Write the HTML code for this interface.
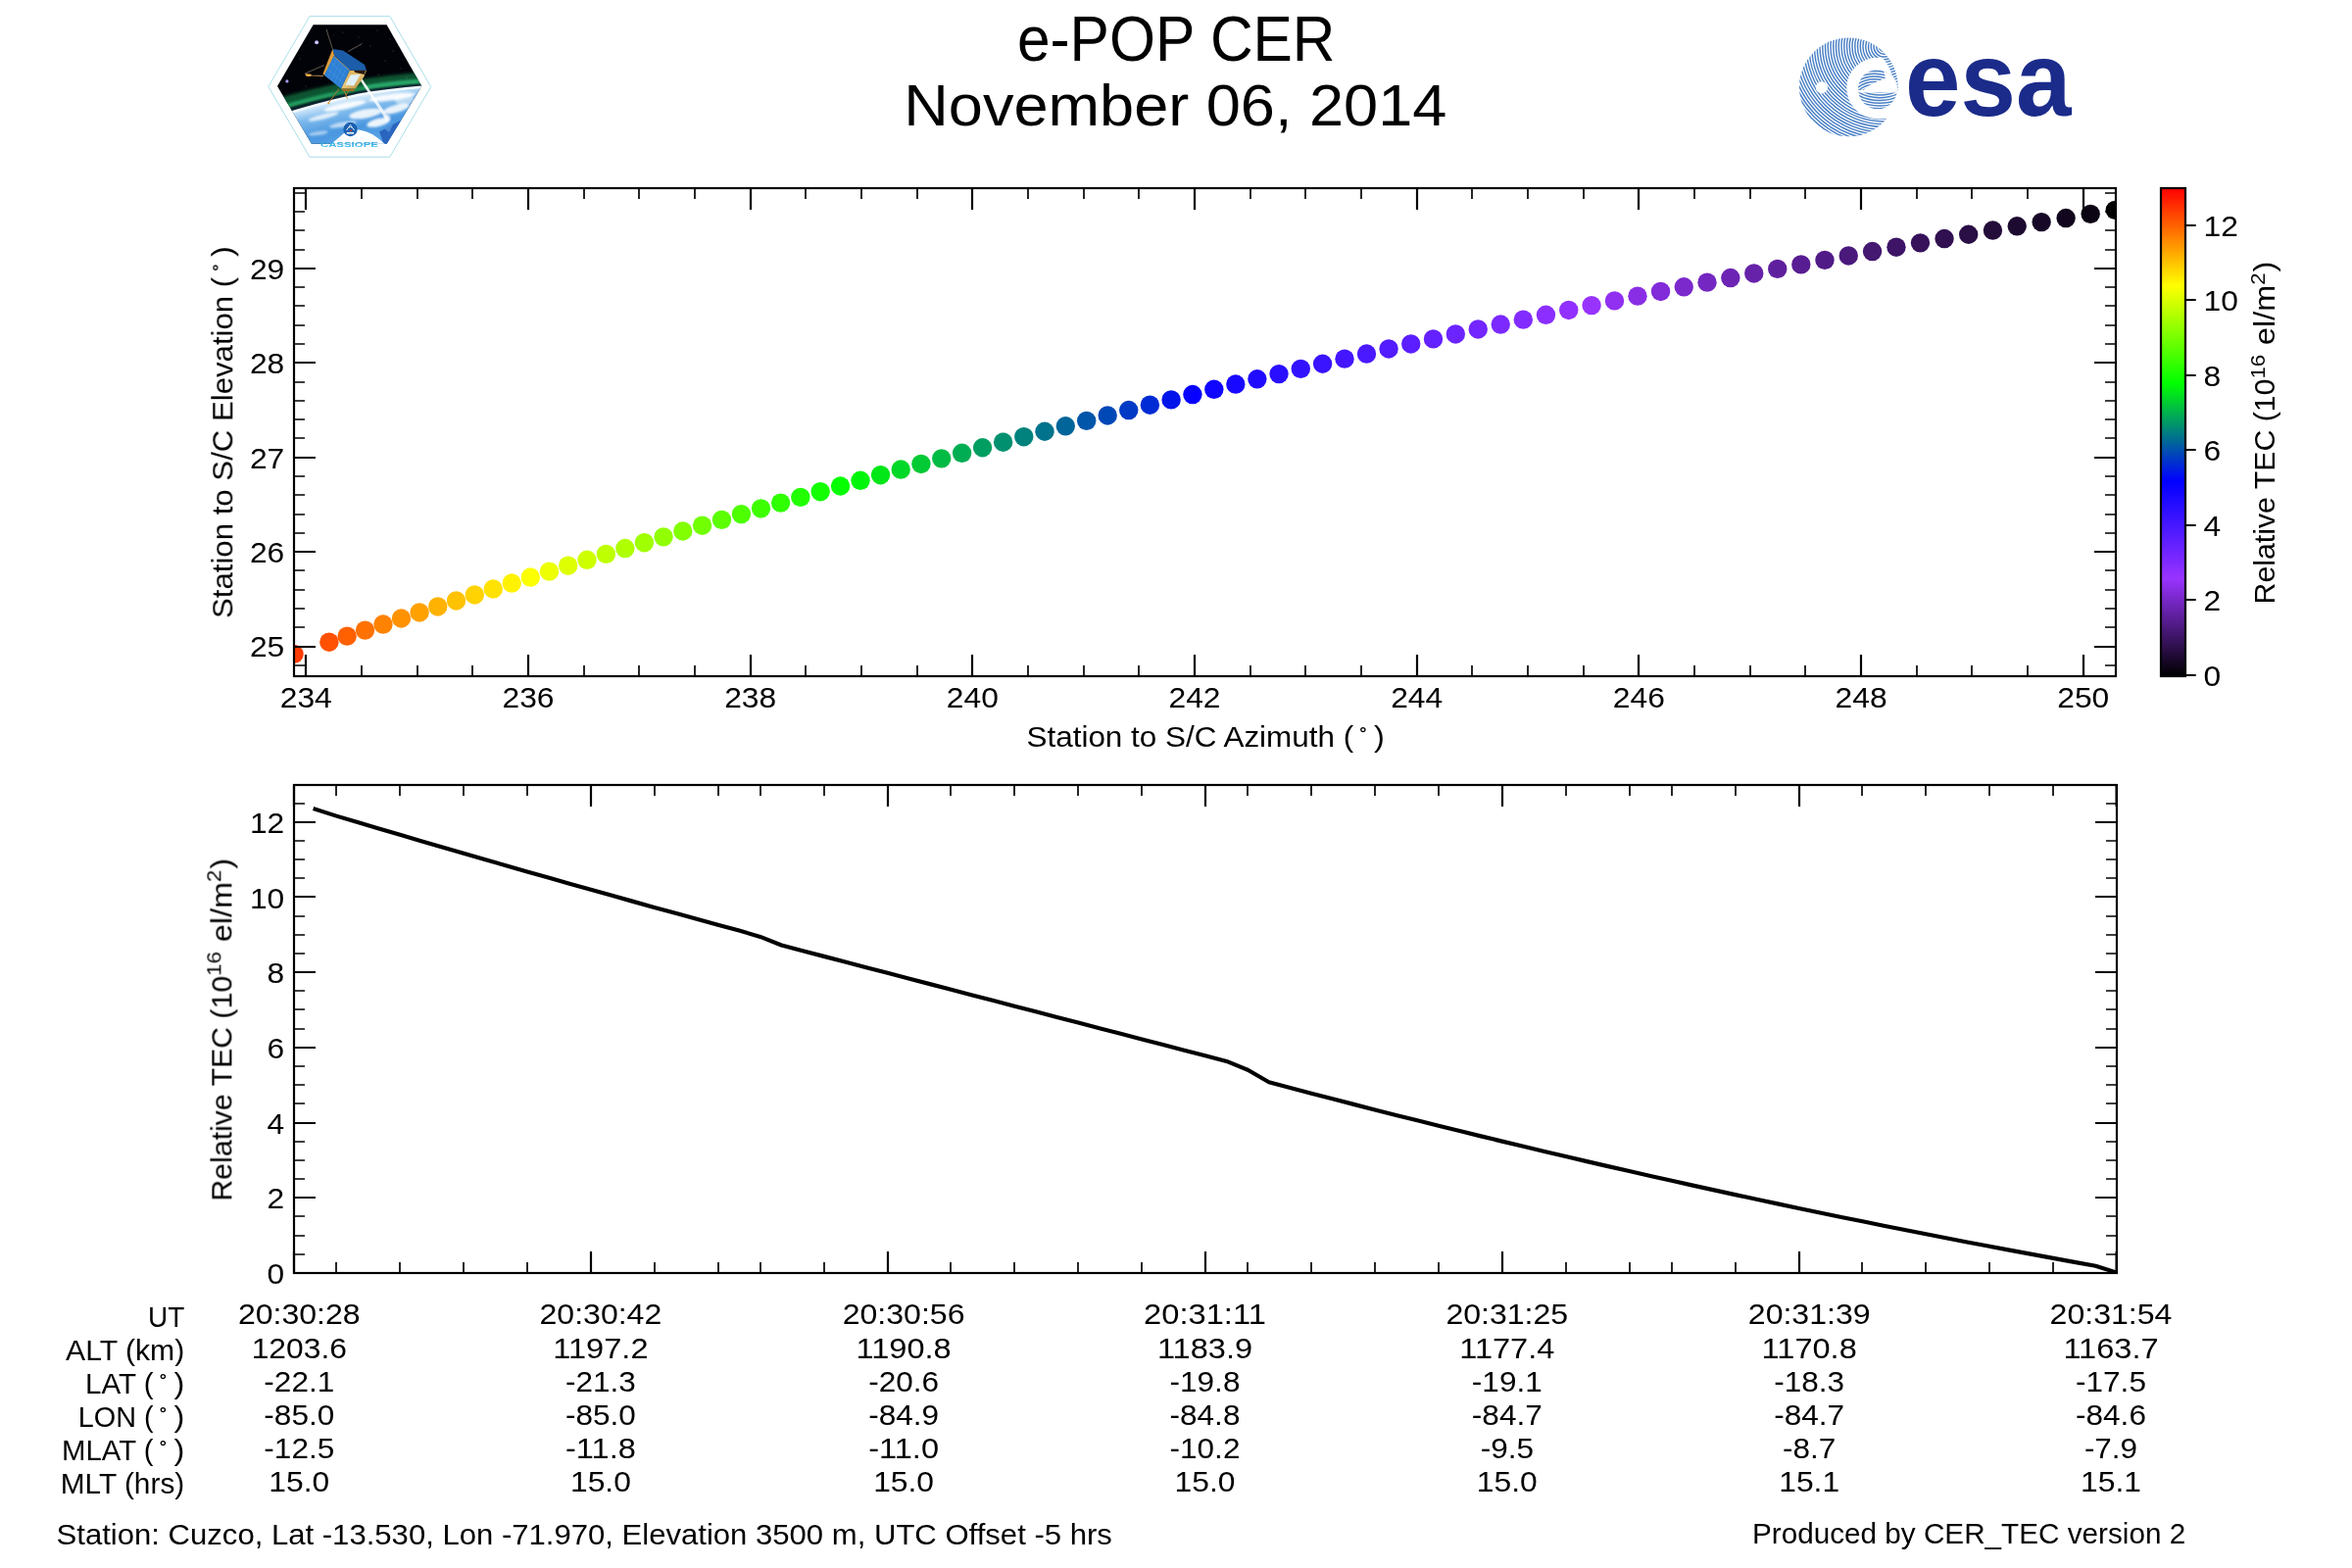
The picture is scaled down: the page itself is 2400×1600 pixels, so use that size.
<!DOCTYPE html>
<html lang="en">
<head>
<meta charset="utf-8">
<title>e-POP CER - November 06, 2014</title>
<style>
html,body{margin:0;padding:0;background:#fff;}
body{width:2400px;height:1600px;font-family:"Liberation Sans",sans-serif;}
svg{display:block;}
text{font-family:"Liberation Sans",sans-serif;white-space:pre;}
</style>
</head>
<body>
<svg width="2400" height="1600" viewBox="0 0 2400 1600" font-family="'Liberation Sans', sans-serif">
<rect width="2400" height="1600" fill="#fff"/>
<defs>
<clipPath id="ctop"><rect x="300" y="192" width="1860" height="498"/></clipPath>
<clipPath id="cbot"><rect x="300" y="801" width="1860" height="498"/></clipPath>
<linearGradient id="cb" x1="0" y1="1" x2="0" y2="0"><stop offset="0" stop-color="#000000"/><stop offset="0.2" stop-color="#9933ff"/><stop offset="0.4" stop-color="#0000ff"/><stop offset="0.6" stop-color="#00ff00"/><stop offset="0.8" stop-color="#ffff00"/><stop offset="1" stop-color="#ff0000"/></linearGradient>
<clipPath id="hexclip"><path d="M283 88L319.6 25.2H394.6L430.3 88L394.6 146.8H317.9Z"/></clipPath>
<linearGradient id="earthg" gradientUnits="userSpaceOnUse" x1="350" y1="95" x2="362" y2="150">
<stop offset="0" stop-color="#f6fbff"/><stop offset="0.14" stop-color="#cfe7fa"/><stop offset="0.34" stop-color="#7db9ec"/><stop offset="0.65" stop-color="#4a97e0"/><stop offset="1" stop-color="#5aa3e6"/>
</linearGradient>
<linearGradient id="beamg" gradientUnits="userSpaceOnUse" x1="367" y1="79" x2="395" y2="120">
<stop offset="0" stop-color="#fff" stop-opacity="0.95"/><stop offset="1" stop-color="#fff" stop-opacity="0.7"/>
</linearGradient>
<linearGradient id="goldg" x1="0" y1="0" x2="1" y2="1">
<stop offset="0" stop-color="#d8a546"/><stop offset="0.5" stop-color="#e7c77a"/><stop offset="1" stop-color="#a87a2a"/>
</linearGradient>
<linearGradient id="casg" x1="0" y1="0" x2="0" y2="1"><stop offset="0" stop-color="#1f9fe0"/><stop offset="1" stop-color="#55c3ee"/></linearGradient>
<filter id="bl1" x="-20%" y="-50%" width="140%" height="200%"><feGaussianBlur stdDeviation="1.6"/></filter>
<filter id="bl2" x="-20%" y="-50%" width="140%" height="200%"><feGaussianBlur stdDeviation="0.9"/></filter>
<filter id="bl3" x="-50%" y="-50%" width="200%" height="200%"><feGaussianBlur stdDeviation="0.5"/></filter>
<clipPath id="esaclip"><circle cx="1886.4" cy="88.9" r="50.4"/></clipPath>
<clipPath id="esain"><circle cx="1916" cy="91.2" r="20"/></clipPath>
<clipPath id="esaring"><circle cx="1886.4" cy="88.9" r="45.8"/></clipPath>
<clipPath id="esatop"><path d="M1894 92L1896.5 70L1921 68L1924 79.5C1917 83 1908 85.5 1901.5 92Z"/></clipPath>

</defs>
<g id="figure" opacity="0.999">
<g id="title">
<text x="1037.89" y="62" font-size="64.9" textLength="324.62" lengthAdjust="spacingAndGlyphs" fill="#000">e-POP CER</text>
<text x="922.24" y="128.3" font-size="59" textLength="554.11" lengthAdjust="spacingAndGlyphs" fill="#000">November 06, 2014</text>
</g>
<g id="cassiope-logo">
<path d="M273.8 88.4L316 16.6H397.8L439.7 88.4L397.8 160.2H316Z" fill="#fff" stroke="#a9dfea" stroke-width="1"/>
<g clip-path="url(#hexclip)">
<rect x="280" y="20" width="155" height="130" fill="#020308"/>
<g filter="url(#bl1)" fill="none">
<path d="M276 109C300 101.5 332 93.5 366 87.5C395 82.5 415 81 436 79.5" stroke="#0c5532" stroke-width="12"/>
<path d="M276 113.5C300 106 332 97.5 366 91C395 86 415 84.5 436 83" stroke="#1c9758" stroke-width="4"/>
<path d="M290 109.5C310 103.5 325 100 340 96.5" stroke="#3bd089" stroke-width="2.2" opacity="0.55"/>
<path d="M372 89.5C392 85.5 410 84 428 83" stroke="#3bd089" stroke-width="2.5" opacity="0.7"/>
</g>
<path d="M276 118.5C300 110.5 330 102 366 94.3C395 89.3 415 87.7 436 86" fill="none" stroke="#0a2a3a" stroke-width="2.2" opacity="0.8" filter="url(#bl3)"/>
<path d="M276 121.5C300 113 330 104.5 366 96.7C395 91.5 415 90 436 88.3V152H276Z" fill="url(#earthg)"/>
<path d="M276 121.5C300 113 330 104.5 366 96.7C395 91.5 415 90 436 88.3" fill="none" stroke="#f4fbff" stroke-width="2.6" filter="url(#bl3)"/>
<g filter="url(#bl2)" fill="#fff">
<ellipse cx="352" cy="108" rx="22" ry="3.2" transform="rotate(-12 352 108)" opacity="0.9"/>
<ellipse cx="400" cy="99" rx="24" ry="3.4" transform="rotate(-7 400 99)" opacity="0.9"/>
<ellipse cx="330" cy="119" rx="16" ry="2.6" transform="rotate(-14 330 119)" opacity="0.75"/>
<ellipse cx="373" cy="116" rx="17" ry="4.5" transform="rotate(-10 373 116)" opacity="0.85"/>
<ellipse cx="404" cy="111" rx="14" ry="4" transform="rotate(-16 404 111)" opacity="0.85"/>
<ellipse cx="350" cy="127" rx="14" ry="2.5" transform="rotate(-10 350 127)" opacity="0.6"/>
<ellipse cx="386" cy="125" rx="12" ry="4" transform="rotate(-14 386 125)" opacity="0.9"/>
<ellipse cx="325" cy="136" rx="10" ry="2" transform="rotate(-8 325 136)" opacity="0.5"/>
<ellipse cx="412" cy="101" rx="10" ry="6" opacity="0.5"/>
</g>
<path d="M387 134.5C395 130 402 126 409.5 122.5L396 146.8L391 146.8C390 142 388.5 138 387 134.5Z" fill="#2a66c0"/>
<path d="M392 131L401 127L397 135Z" fill="#5d9fe3" opacity="0.7" filter="url(#bl3)"/>
<path d="M331 150C339 147 346 140.5 351.5 135.6C356 132.6 362 132 366 132.4C374 133.4 380 136.8 384 139.8C388 142.8 392 146 396 150Z" fill="#fff"/>
<path d="M366.3 79.9L368.3 78.7L396 119.2L392.9 121Z" fill="url(#beamg)"/>
<circle cx="395" cy="120.5" r="3.2" fill="#fff" opacity="0.8" filter="url(#bl2)"/>
<g filter="url(#bl3)"><circle cx="323.1" cy="43.3" r="2" fill="#b9b2ff"/><circle cx="292.9" cy="82.9" r="1.6" fill="#a79cf0"/></g>
<circle cx="323.1" cy="43.3" r="0.8" fill="#fff"/>
<g fill="#fff" opacity="0.55"><circle cx="350" cy="33" r="0.45"/><circle cx="385" cy="31" r="0.45"/><circle cx="401" cy="52" r="0.45"/><circle cx="378" cy="47" r="0.45"/><circle cx="409" cy="70" r="0.45"/><circle cx="306" cy="60" r="0.4"/><circle cx="366" cy="38" r="0.4"/><circle cx="393" cy="62" r="0.45"/><circle cx="415" cy="79" r="0.4"/><circle cx="340" cy="36" r="0.4"/><circle cx="398" cy="40" r="0.4"/><circle cx="386" cy="76" r="0.4"/><circle cx="312" cy="88" r="0.4"/></g>
<g stroke="#8b8072" stroke-width="0.7" fill="none"><path d="M339.4 50.1L333 29.9"/><path d="M354.9 52.7L369.6 44.5"/><path d="M330.8 66.5L311 75.1"/></g>
<path d="M311.5 75.6L318 77L330 77.5" stroke="#b88a4a" stroke-width="1.1" fill="none"/>
<ellipse cx="314.8" cy="76.7" rx="3" ry="1.2" fill="#ffb347" filter="url(#bl3)"/>
<g stroke="#b07a35" stroke-width="1" fill="none"><path d="M346 90.5L335.3 105"/><path d="M350.5 91L354.5 100.5"/><path d="M357 91L353 97"/></g>
<circle cx="335.2" cy="105.3" r="1.1" fill="#e39a35"/>
<path d="M356.7 71.7H373.9L371.3 78.6L362.7 90.6H348Z" fill="url(#goldg)"/>
<path d="M357.8 76.5L367.5 76L361 87.5L352.5 86.5Z" fill="#dff0fa" filter="url(#bl3)"/>
<path d="M361 71.9L373 72L371.8 76L362.5 74Z" fill="#2c1d0c"/>
<path d="M348 90.6H362.7L361 93H349.5Z" fill="#9a6d25"/>
<path d="M339.4 50.1L350 51.5L372 66L373.9 71.7H356.7L341 56.5Z" fill="#1c5daa"/>
<path d="M339.4 50.1L341 56.5L331.6 77.3L329.4 75.6Z" fill="#dd9c3a"/>
<path d="M340.6 57L356.7 71.7L348 90.6L330.8 76.8Z" fill="#2e80d5"/>
<g stroke="#63acee" stroke-width="0.3" opacity="0.9"><path d="M343.8 60L334.2 79.5"/><path d="M347 62.9L337.7 82.3"/><path d="M350.2 65.8L341.1 85"/><path d="M353.5 68.8L344.5 87.8"/><path d="M337.3 63.6L354 80"/><path d="M334.1 70.2L351 85.5"/></g>
<path d="M340.6 57L356.7 71.7" stroke="#e8b866" stroke-width="0.7"/>
</g>
<circle cx="357.5" cy="132" r="7.2" fill="#1b5fb0"/>
<path d="M353.4 133Q357.5 125.8 361.6 133" fill="none" stroke="#fff" stroke-width="0.9"/><path d="M355.5 130.5L357.5 127.2L359.5 130.5" fill="none" stroke="#fff" stroke-width="0.7"/><circle cx="358" cy="133.2" r="0.9" fill="#e03030"/><rect x="353.8" y="134.9" width="7.4" height="1.7" fill="#fff" opacity="0.92"/>
<text x="326.9" y="149.7" font-size="7" font-weight="bold" fill="url(#casg)" textLength="59" lengthAdjust="spacingAndGlyphs">CASSIOPE</text>
</g>
<g id="esa-logo">
<g clip-path="url(#esaclip)" fill="none" stroke="#4a80c5" stroke-width="1.45">
<circle cx="1922.5" cy="47.5" r="5.00"/>
<circle cx="1922.5" cy="47.5" r="7.75"/>
<circle cx="1922.5" cy="47.5" r="10.50"/>
<circle cx="1922.5" cy="47.5" r="13.25"/>
<circle cx="1922.5" cy="47.5" r="16.00"/>
<circle cx="1922.5" cy="47.5" r="18.75"/>
<circle cx="1922.5" cy="47.5" r="21.50"/>
<circle cx="1922.5" cy="47.5" r="24.25"/>
<circle cx="1922.5" cy="47.5" r="27.00"/>
<circle cx="1922.5" cy="47.5" r="29.75"/>
<circle cx="1922.5" cy="47.5" r="32.50"/>
<circle cx="1922.5" cy="47.5" r="35.25"/>
<circle cx="1922.5" cy="47.5" r="38.00"/>
<circle cx="1922.5" cy="47.5" r="40.75"/>
<circle cx="1922.5" cy="47.5" r="43.50"/>
<circle cx="1922.5" cy="47.5" r="46.25"/>
<circle cx="1922.5" cy="47.5" r="49.00"/>
<circle cx="1922.5" cy="47.5" r="51.75"/>
<circle cx="1922.5" cy="47.5" r="54.50"/>
<circle cx="1922.5" cy="47.5" r="57.25"/>
<circle cx="1922.5" cy="47.5" r="60.00"/>
<circle cx="1922.5" cy="47.5" r="62.75"/>
<circle cx="1922.5" cy="47.5" r="65.50"/>
<circle cx="1922.5" cy="47.5" r="68.25"/>
<circle cx="1922.5" cy="47.5" r="71.00"/>
<circle cx="1922.5" cy="47.5" r="73.75"/>
<circle cx="1922.5" cy="47.5" r="76.50"/>
<circle cx="1922.5" cy="47.5" r="79.25"/>
<circle cx="1922.5" cy="47.5" r="82.00"/>
<circle cx="1922.5" cy="47.5" r="84.75"/>
<circle cx="1922.5" cy="47.5" r="87.50"/>
<circle cx="1922.5" cy="47.5" r="90.25"/>
<circle cx="1922.5" cy="47.5" r="93.00"/>
<circle cx="1922.5" cy="47.5" r="95.75"/>
<circle cx="1922.5" cy="47.5" r="98.50"/>
<circle cx="1922.5" cy="47.5" r="101.25"/>
<circle cx="1922.5" cy="47.5" r="104.00"/>
<circle cx="1922.5" cy="47.5" r="106.75"/>
</g>
<g clip-path="url(#esaring)"><circle cx="1915.5" cy="90" r="31.2" fill="#fff"/></g>
<path d="M1916 92.5H1940V121.3H1916Z" fill="#fff"/>
<circle cx="1916" cy="91.2" r="20.4" fill="#fff"/>
<g clip-path="url(#esain)" fill="none" stroke="#4a80c5" stroke-width="1.45">
<circle cx="1918" cy="56" r="8.00"/>
<circle cx="1918" cy="56" r="10.75"/>
<circle cx="1918" cy="56" r="13.50"/>
<circle cx="1918" cy="56" r="16.25"/>
<circle cx="1918" cy="56" r="19.00"/>
<circle cx="1918" cy="56" r="21.75"/>
<circle cx="1918" cy="56" r="24.50"/>
<circle cx="1918" cy="56" r="27.25"/>
<circle cx="1918" cy="56" r="30.00"/>
<circle cx="1918" cy="56" r="32.75"/>
<circle cx="1918" cy="56" r="35.50"/>
<circle cx="1918" cy="56" r="38.25"/>
<circle cx="1918" cy="56" r="41.00"/>
<circle cx="1918" cy="56" r="43.75"/>
<circle cx="1918" cy="56" r="46.50"/>
<circle cx="1918" cy="56" r="49.25"/>
<circle cx="1918" cy="56" r="52.00"/>
<circle cx="1918" cy="56" r="54.75"/>
<circle cx="1918" cy="56" r="57.50"/>
</g>
<g clip-path="url(#esain)"><path d="M1890 94.5H1940V60H1890Z" fill="#fff"/>
<g clip-path="url(#esatop)" fill="none" stroke="#4a80c5" stroke-width="1.45">
<circle cx="1913" cy="112" r="12.00"/>
<circle cx="1913" cy="112" r="14.75"/>
<circle cx="1913" cy="112" r="17.50"/>
<circle cx="1913" cy="112" r="20.25"/>
<circle cx="1913" cy="112" r="23.00"/>
<circle cx="1913" cy="112" r="25.75"/>
<circle cx="1913" cy="112" r="28.50"/>
<circle cx="1913" cy="112" r="31.25"/>
<circle cx="1913" cy="112" r="34.00"/>
<circle cx="1913" cy="112" r="36.75"/>
<circle cx="1913" cy="112" r="39.50"/>
<circle cx="1913" cy="112" r="42.25"/>
<circle cx="1913" cy="112" r="45.00"/>
<circle cx="1913" cy="112" r="47.75"/>
</g></g>
<circle cx="1858.9" cy="89.3" r="6.1" fill="#fff"/>
<text x="1944" y="118.4" font-size="107.5" font-weight="bold" fill="#1b2b8a" textLength="169.4" lengthAdjust="spacingAndGlyphs">esa</text>
</g>
<g id="scatter" clip-path="url(#ctop)">
<circle cx="300" cy="667.4" r="9.7" fill="#ff3c00"/>
<circle cx="335.88" cy="655.22" r="9.7" fill="#ff5100"/>
<circle cx="354.16" cy="649.15" r="9.7" fill="#ff6100"/>
<circle cx="372.52" cy="643.09" r="9.7" fill="#ff7200"/>
<circle cx="390.96" cy="637.04" r="9.7" fill="#ff8200"/>
<circle cx="409.48" cy="631" r="9.7" fill="#ff9200"/>
<circle cx="428.07" cy="624.97" r="9.7" fill="#ffa200"/>
<circle cx="446.74" cy="618.96" r="9.7" fill="#ffb200"/>
<circle cx="465.5" cy="612.95" r="9.7" fill="#ffc200"/>
<circle cx="484.33" cy="606.96" r="9.7" fill="#ffd200"/>
<circle cx="503.24" cy="600.99" r="9.7" fill="#ffe200"/>
<circle cx="522.23" cy="595.02" r="9.7" fill="#fff200"/>
<circle cx="541.3" cy="589.07" r="9.7" fill="#fcff00"/>
<circle cx="560.46" cy="583.14" r="9.7" fill="#edff00"/>
<circle cx="579.69" cy="577.21" r="9.7" fill="#ddff00"/>
<circle cx="599" cy="571.31" r="9.7" fill="#ceff00"/>
<circle cx="618.4" cy="565.41" r="9.7" fill="#beff00"/>
<circle cx="637.88" cy="559.54" r="9.7" fill="#afff00"/>
<circle cx="657.43" cy="553.68" r="9.7" fill="#a0ff00"/>
<circle cx="677.07" cy="547.83" r="9.7" fill="#91ff00"/>
<circle cx="696.8" cy="542" r="9.7" fill="#82ff00"/>
<circle cx="716.6" cy="536.19" r="9.7" fill="#72ff00"/>
<circle cx="736.49" cy="530.39" r="9.7" fill="#5bff00"/>
<circle cx="756.45" cy="524.61" r="9.7" fill="#4dff00"/>
<circle cx="776.51" cy="518.85" r="9.7" fill="#3eff00"/>
<circle cx="796.64" cy="513.11" r="9.7" fill="#30ff00"/>
<circle cx="816.86" cy="507.38" r="9.7" fill="#21ff00"/>
<circle cx="837.16" cy="501.68" r="9.7" fill="#13ff00"/>
<circle cx="857.54" cy="495.99" r="9.7" fill="#05ff00"/>
<circle cx="878.01" cy="490.32" r="9.7" fill="#00f50a"/>
<circle cx="898.56" cy="484.68" r="9.7" fill="#00e718"/>
<circle cx="919.2" cy="479.05" r="9.7" fill="#00d827"/>
<circle cx="939.92" cy="473.44" r="9.7" fill="#00ca35"/>
<circle cx="960.72" cy="467.85" r="9.7" fill="#00bb44"/>
<circle cx="981.61" cy="462.29" r="9.7" fill="#00ad52"/>
<circle cx="1002.58" cy="456.74" r="9.7" fill="#009e61"/>
<circle cx="1023.63" cy="451.22" r="9.7" fill="#00906f"/>
<circle cx="1044.77" cy="445.72" r="9.7" fill="#00827d"/>
<circle cx="1066" cy="440.24" r="9.7" fill="#00738c"/>
<circle cx="1087.3" cy="434.79" r="9.7" fill="#00659a"/>
<circle cx="1108.7" cy="429.36" r="9.7" fill="#0056a9"/>
<circle cx="1130.17" cy="423.95" r="9.7" fill="#0048b7"/>
<circle cx="1151.74" cy="418.57" r="9.7" fill="#003ac5"/>
<circle cx="1173.38" cy="413.21" r="9.7" fill="#002bd4"/>
<circle cx="1195.11" cy="407.88" r="9.7" fill="#0015ea"/>
<circle cx="1216.93" cy="402.57" r="9.7" fill="#0702ff"/>
<circle cx="1238.83" cy="397.28" r="9.7" fill="#1005ff"/>
<circle cx="1260.82" cy="392.02" r="9.7" fill="#1808ff"/>
<circle cx="1282.88" cy="386.79" r="9.7" fill="#210bff"/>
<circle cx="1305.04" cy="381.59" r="9.7" fill="#2a0eff"/>
<circle cx="1327.28" cy="376.41" r="9.7" fill="#3211ff"/>
<circle cx="1349.6" cy="371.26" r="9.7" fill="#3a13ff"/>
<circle cx="1372.01" cy="366.13" r="9.7" fill="#4316ff"/>
<circle cx="1394.5" cy="361.04" r="9.7" fill="#4b19ff"/>
<circle cx="1417.08" cy="355.97" r="9.7" fill="#531cff"/>
<circle cx="1439.74" cy="350.93" r="9.7" fill="#5b1eff"/>
<circle cx="1462.49" cy="345.92" r="9.7" fill="#6421ff"/>
<circle cx="1485.32" cy="340.93" r="9.7" fill="#6c24ff"/>
<circle cx="1508.23" cy="335.98" r="9.7" fill="#7326ff"/>
<circle cx="1531.23" cy="331.06" r="9.7" fill="#7b29ff"/>
<circle cx="1554.31" cy="326.17" r="9.7" fill="#832cff"/>
<circle cx="1577.48" cy="321.3" r="9.7" fill="#8b2eff"/>
<circle cx="1600.73" cy="316.47" r="9.7" fill="#9231ff"/>
<circle cx="1624.07" cy="311.67" r="9.7" fill="#9833fe"/>
<circle cx="1647.48" cy="306.9" r="9.7" fill="#9130f1"/>
<circle cx="1670.98" cy="302.16" r="9.7" fill="#892ee5"/>
<circle cx="1694.57" cy="297.45" r="9.7" fill="#822bd9"/>
<circle cx="1718.24" cy="292.78" r="9.7" fill="#7b29cd"/>
<circle cx="1741.99" cy="288.13" r="9.7" fill="#7427c1"/>
<circle cx="1765.82" cy="283.52" r="9.7" fill="#6d24b5"/>
<circle cx="1789.74" cy="278.95" r="9.7" fill="#6622a9"/>
<circle cx="1813.74" cy="274.4" r="9.7" fill="#5f209e"/>
<circle cx="1837.82" cy="269.89" r="9.7" fill="#581d92"/>
<circle cx="1861.98" cy="265.41" r="9.7" fill="#511b87"/>
<circle cx="1886.23" cy="260.97" r="9.7" fill="#4a197c"/>
<circle cx="1910.56" cy="256.56" r="9.7" fill="#441771"/>
<circle cx="1934.97" cy="252.18" r="9.7" fill="#3d1466"/>
<circle cx="1959.46" cy="247.84" r="9.7" fill="#37125b"/>
<circle cx="1984.03" cy="243.53" r="9.7" fill="#301050"/>
<circle cx="2008.68" cy="239.26" r="9.7" fill="#2a0e46"/>
<circle cx="2033.42" cy="235.02" r="9.7" fill="#240c3b"/>
<circle cx="2058.23" cy="230.82" r="9.7" fill="#1d0a31"/>
<circle cx="2083.13" cy="226.65" r="9.7" fill="#170827"/>
<circle cx="2108.1" cy="222.52" r="9.7" fill="#11061d"/>
<circle cx="2133.16" cy="218.42" r="9.7" fill="#0b0413"/>
<circle cx="2158.29" cy="214.36" r="9.7" fill="#010001"/>
</g>
<g id="top-axes" fill="none" stroke="#000">
<path stroke-width="2.2" d="M312 690V668M539 690V668M766 690V668M992 690V668M1219 690V668M1446 690V668M1672 690V668M1899 690V668M2126 690V668M312 192V214M539 192V214M766 192V214M992 192V214M1219 192V214M1446 192V214M1672 192V214M1899 192V214M2126 192V214M300 660H322M300 563H322M300 467H322M300 370H322M300 274H322M2159 660H2137M2159 563H2137M2159 467H2137M2159 370H2137M2159 274H2137"/>
<path stroke-width="1.7" d="M369 690V679M426 690V679M482 690V679M596 690V679M652 690V679M709 690V679M822 690V679M879 690V679M936 690V679M1049 690V679M1106 690V679M1162 690V679M1276 690V679M1332 690V679M1389 690V679M1502 690V679M1559 690V679M1616 690V679M1729 690V679M1786 690V679M1842 690V679M1956 690V679M2012 690V679M2069 690V679M369 192V203M426 192V203M482 192V203M596 192V203M652 192V203M709 192V203M822 192V203M879 192V203M936 192V203M1049 192V203M1106 192V203M1162 192V203M1276 192V203M1332 192V203M1389 192V203M1502 192V203M1559 192V203M1616 192V203M1729 192V203M1786 192V203M1842 192V203M1956 192V203M2012 192V203M2069 192V203M300 679H311M300 640H311M300 621H311M300 602H311M300 582H311M300 544H311M300 525H311M300 505H311M300 486H311M300 447H311M300 428H311M300 409H311M300 390H311M300 351H311M300 332H311M300 312H311M300 293H311M300 255H311M300 235H311M300 216H311M300 197H311M2159 679H2148M2159 640H2148M2159 621H2148M2159 602H2148M2159 582H2148M2159 544H2148M2159 525H2148M2159 505H2148M2159 486H2148M2159 447H2148M2159 428H2148M2159 409H2148M2159 390H2148M2159 351H2148M2159 332H2148M2159 312H2148M2159 293H2148M2159 255H2148M2159 235H2148M2159 216H2148M2159 197H2148"/>
<rect x="300" y="192" width="1859" height="498" stroke-width="2.2"/>
</g>
<g id="top-labels">
<text x="285.79" y="722.3" font-size="29.5" textLength="53.02" lengthAdjust="spacingAndGlyphs" fill="#000">234</text>
<text x="512.47" y="722.3" font-size="29.5" textLength="53.02" lengthAdjust="spacingAndGlyphs" fill="#000">236</text>
<text x="739.15" y="722.3" font-size="29.5" textLength="53.02" lengthAdjust="spacingAndGlyphs" fill="#000">238</text>
<text x="965.83" y="722.3" font-size="29.5" textLength="53.02" lengthAdjust="spacingAndGlyphs" fill="#000">240</text>
<text x="1192.51" y="722.3" font-size="29.5" textLength="53.02" lengthAdjust="spacingAndGlyphs" fill="#000">242</text>
<text x="1419.19" y="722.3" font-size="29.5" textLength="53.02" lengthAdjust="spacingAndGlyphs" fill="#000">244</text>
<text x="1645.87" y="722.3" font-size="29.5" textLength="53.02" lengthAdjust="spacingAndGlyphs" fill="#000">246</text>
<text x="1872.55" y="722.3" font-size="29.5" textLength="53.02" lengthAdjust="spacingAndGlyphs" fill="#000">248</text>
<text x="2099.23" y="722.3" font-size="29.5" textLength="53.02" lengthAdjust="spacingAndGlyphs" fill="#000">250</text>
<text x="254.95" y="670.4" font-size="29.5" textLength="35.35" lengthAdjust="spacingAndGlyphs" fill="#000">25</text>
<text x="254.95" y="574" font-size="29.5" textLength="35.35" lengthAdjust="spacingAndGlyphs" fill="#000">26</text>
<text x="254.95" y="477.6" font-size="29.5" textLength="35.35" lengthAdjust="spacingAndGlyphs" fill="#000">27</text>
<text x="254.95" y="381.2" font-size="29.5" textLength="35.35" lengthAdjust="spacingAndGlyphs" fill="#000">28</text>
<text x="254.95" y="284.8" font-size="29.5" textLength="35.35" lengthAdjust="spacingAndGlyphs" fill="#000">29</text>
</g>
<g id="top-xlabel">
<text x="1047.5" y="761.9" font-size="29.5" textLength="333.67" lengthAdjust="spacingAndGlyphs" fill="#000">Station to S/C Azimuth (</text>
<text x="1387.26" y="753.7" font-size="18.05" textLength="7.22" lengthAdjust="spacingAndGlyphs" fill="#000" font-weight="bold">°</text>
<text x="1402.07" y="761.9" font-size="29.5" textLength="10.84" lengthAdjust="spacingAndGlyphs" fill="#000">)</text>
</g>
<g id="top-ylabel" transform="translate(237.3 631.0) rotate(-90)">
<text x="0" y="0" font-size="29.5" textLength="348.24" lengthAdjust="spacingAndGlyphs" fill="#000">Station to S/C Elevation (</text>
<text x="354.33" y="-8.2" font-size="18.05" textLength="7.22" lengthAdjust="spacingAndGlyphs" fill="#000" font-weight="bold">°</text>
<text x="369.14" y="0" font-size="29.5" textLength="10.84" lengthAdjust="spacingAndGlyphs" fill="#000">)</text>
</g>
<g id="colorbar">
<rect x="2205" y="192" width="25" height="498" fill="url(#cb)" stroke="#000" stroke-width="2.2"/>
<path stroke="#000" stroke-width="2.2" d="M2231 689H2240.7M2231 612H2240.7M2231 536H2240.7M2231 459H2240.7M2231 383H2240.7M2231 306H2240.7M2231 230H2240.7"/>
<text x="2248.5" y="700" font-size="29.5" textLength="17.67" lengthAdjust="spacingAndGlyphs" fill="#000">0</text>
<text x="2248.5" y="623.44" font-size="29.5" textLength="17.67" lengthAdjust="spacingAndGlyphs" fill="#000">2</text>
<text x="2248.5" y="546.88" font-size="29.5" textLength="17.67" lengthAdjust="spacingAndGlyphs" fill="#000">4</text>
<text x="2248.5" y="470.32" font-size="29.5" textLength="17.67" lengthAdjust="spacingAndGlyphs" fill="#000">6</text>
<text x="2248.5" y="393.76" font-size="29.5" textLength="17.67" lengthAdjust="spacingAndGlyphs" fill="#000">8</text>
<text x="2248.5" y="317.2" font-size="29.5" textLength="35.35" lengthAdjust="spacingAndGlyphs" fill="#000">10</text>
<text x="2248.5" y="240.64" font-size="29.5" textLength="35.35" lengthAdjust="spacingAndGlyphs" fill="#000">12</text>
</g>
<g id="cb-label" transform="translate(2321.2 616.4) rotate(-90)">
<text x="0" y="0" font-size="29.5" textLength="229.8" lengthAdjust="spacingAndGlyphs" fill="#000">Relative TEC (10</text>
<text x="229.8" y="-10.6" font-size="20.65" textLength="24.74" lengthAdjust="spacingAndGlyphs" fill="#000">16</text>
<text x="255.54" y="0" font-size="29.5" textLength="70.06" lengthAdjust="spacingAndGlyphs" fill="#000"> el/m</text>
<text x="325.6" y="-10.6" font-size="20.65" textLength="12.37" lengthAdjust="spacingAndGlyphs" fill="#000">2</text>
<text x="338.97" y="0" font-size="29.5" textLength="10.84" lengthAdjust="spacingAndGlyphs" fill="#000">)</text>
</g>
<g id="tec-line" clip-path="url(#cbot)"><path fill="none" stroke="#000" stroke-width="4.17" stroke-linejoin="round" stroke-linecap="square" d="M321.63 825.7L343.26 832.63L364.88 839.06L386.51 845.46L408.14 851.83L429.77 858.17L451.4 864.48L473.02 870.76L494.65 877L516.28 883.22L537.91 889.41L559.53 895.56L581.16 901.69L602.79 907.78L624.42 913.85L646.05 919.88L667.67 925.89L689.3 931.86L710.93 937.8L732.56 943.71L754.19 949.59L775.81 955.9L797.44 964.55L819.07 970.21L840.7 975.87L862.33 981.52L883.95 987.18L905.58 992.83L927.21 998.47L948.84 1004.12L970.47 1009.76L992.09 1015.4L1013.72 1021.04L1035.35 1026.68L1056.98 1032.31L1078.6 1037.94L1100.23 1043.57L1121.86 1049.2L1143.49 1054.83L1165.12 1060.45L1186.74 1066.07L1208.37 1071.69L1230 1077.3L1251.63 1082.91L1273.26 1091.8L1294.88 1104.23L1316.51 1109.97L1338.14 1115.65L1359.77 1121.29L1381.4 1126.87L1403.02 1132.41L1424.65 1137.9L1446.28 1143.34L1467.91 1148.73L1489.53 1154.07L1511.16 1159.37L1532.79 1164.61L1554.42 1169.81L1576.05 1174.96L1597.67 1180.06L1619.3 1185.11L1640.93 1190.11L1662.56 1195.06L1684.19 1199.97L1705.81 1204.82L1727.44 1209.63L1749.07 1214.39L1770.7 1219.1L1792.33 1223.76L1813.95 1228.37L1835.58 1232.94L1857.21 1237.45L1878.84 1241.92L1900.47 1246.33L1922.09 1250.7L1943.72 1255.02L1965.35 1259.29L1986.98 1263.52L2008.6 1267.69L2030.23 1271.82L2051.86 1275.89L2073.49 1279.92L2095.12 1283.9L2116.74 1287.83L2138.37 1291.71L2160 1298.6"/></g>
<g id="bottom-axes" fill="none" stroke="#000">
<path stroke-width="2.2" d="M2159.6 1299V1277M2159.6 801V823M300 1299V1277M603 1299V1277M906 1299V1277M1230 1299V1277M1533 1299V1277M1836 1299V1277M300 801V823M603 801V823M906 801V823M1230 801V823M1533 801V823M1836 801V823M300 1299H322M300 1222H322M300 1146H322M300 1069H322M300 992H322M300 915H322M300 839H322M2160 1299H2138M2160 1222H2138M2160 1146H2138M2160 1069H2138M2160 992H2138M2160 915H2138M2160 839H2138"/>
<path stroke-width="1.7" d="M343 1299V1288M408 1299V1288M473 1299V1288M538 1299V1288M668 1299V1288M733 1299V1288M776 1299V1288M841 1299V1288M970 1299V1288M1035 1299V1288M1100 1299V1288M1165 1299V1288M1273 1299V1288M1338 1299V1288M1403 1299V1288M1468 1299V1288M1598 1299V1288M1663 1299V1288M1706 1299V1288M1771 1299V1288M1900 1299V1288M1965 1299V1288M2030 1299V1288M2095 1299V1288M343 801V812M408 801V812M473 801V812M538 801V812M668 801V812M733 801V812M776 801V812M841 801V812M970 801V812M1035 801V812M1100 801V812M1165 801V812M1273 801V812M1338 801V812M1403 801V812M1468 801V812M1598 801V812M1663 801V812M1706 801V812M1771 801V812M1900 801V812M1965 801V812M2030 801V812M2095 801V812M300 1280H311M300 1261H311M300 1241H311M300 1203H311M300 1184H311M300 1165H311M300 1126H311M300 1107H311M300 1088H311M300 1050H311M300 1030H311M300 1011H311M300 973H311M300 954H311M300 935H311M300 896H311M300 877H311M300 858H311M300 820H311M2160 1280H2149M2160 1261H2149M2160 1241H2149M2160 1203H2149M2160 1184H2149M2160 1165H2149M2160 1126H2149M2160 1107H2149M2160 1088H2149M2160 1050H2149M2160 1030H2149M2160 1011H2149M2160 973H2149M2160 954H2149M2160 935H2149M2160 896H2149M2160 877H2149M2160 858H2149M2160 820H2149"/>
<rect x="300" y="801" width="1860" height="498" stroke-width="2.2"/>
</g>
<g id="bottom-ylabels">
<text x="272.63" y="1310.2" font-size="29.5" textLength="17.67" lengthAdjust="spacingAndGlyphs" fill="#000">0</text>
<text x="272.63" y="1233.48" font-size="29.5" textLength="17.67" lengthAdjust="spacingAndGlyphs" fill="#000">2</text>
<text x="272.63" y="1156.76" font-size="29.5" textLength="17.67" lengthAdjust="spacingAndGlyphs" fill="#000">4</text>
<text x="272.63" y="1080.04" font-size="29.5" textLength="17.67" lengthAdjust="spacingAndGlyphs" fill="#000">6</text>
<text x="272.63" y="1003.32" font-size="29.5" textLength="17.67" lengthAdjust="spacingAndGlyphs" fill="#000">8</text>
<text x="254.95" y="926.6" font-size="29.5" textLength="35.35" lengthAdjust="spacingAndGlyphs" fill="#000">10</text>
<text x="254.95" y="849.88" font-size="29.5" textLength="35.35" lengthAdjust="spacingAndGlyphs" fill="#000">12</text>
</g>
<g id="bottom-ylabel" transform="translate(236.4 1225.6) rotate(-90)">
<text x="0" y="0" font-size="29.5" textLength="229.8" lengthAdjust="spacingAndGlyphs" fill="#000">Relative TEC (10</text>
<text x="229.8" y="-10.6" font-size="20.65" textLength="24.74" lengthAdjust="spacingAndGlyphs" fill="#000">16</text>
<text x="255.54" y="0" font-size="29.5" textLength="70.06" lengthAdjust="spacingAndGlyphs" fill="#000"> el/m</text>
<text x="325.6" y="-10.6" font-size="20.65" textLength="12.37" lengthAdjust="spacingAndGlyphs" fill="#000">2</text>
<text x="338.97" y="0" font-size="29.5" textLength="10.84" lengthAdjust="spacingAndGlyphs" fill="#000">)</text>
</g>
<g id="table">
<text x="242.92" y="1351" font-size="29.5" textLength="124.77" lengthAdjust="spacingAndGlyphs" fill="#000">20:30:28</text>
<text x="550.52" y="1351" font-size="29.5" textLength="124.77" lengthAdjust="spacingAndGlyphs" fill="#000">20:30:42</text>
<text x="859.72" y="1351" font-size="29.5" textLength="124.77" lengthAdjust="spacingAndGlyphs" fill="#000">20:30:56</text>
<text x="1167.12" y="1351" font-size="29.5" textLength="124.77" lengthAdjust="spacingAndGlyphs" fill="#000">20:31:11</text>
<text x="1475.42" y="1351" font-size="29.5" textLength="124.77" lengthAdjust="spacingAndGlyphs" fill="#000">20:31:25</text>
<text x="1783.82" y="1351" font-size="29.5" textLength="124.77" lengthAdjust="spacingAndGlyphs" fill="#000">20:31:39</text>
<text x="2091.62" y="1351" font-size="29.5" textLength="124.77" lengthAdjust="spacingAndGlyphs" fill="#000">20:31:54</text>
<text x="256.7" y="1385.9" font-size="29.5" textLength="97.2" lengthAdjust="spacingAndGlyphs" fill="#000">1203.6</text>
<text x="564.3" y="1385.9" font-size="29.5" textLength="97.2" lengthAdjust="spacingAndGlyphs" fill="#000">1197.2</text>
<text x="873.5" y="1385.9" font-size="29.5" textLength="97.2" lengthAdjust="spacingAndGlyphs" fill="#000">1190.8</text>
<text x="1180.9" y="1385.9" font-size="29.5" textLength="97.2" lengthAdjust="spacingAndGlyphs" fill="#000">1183.9</text>
<text x="1489.2" y="1385.9" font-size="29.5" textLength="97.2" lengthAdjust="spacingAndGlyphs" fill="#000">1177.4</text>
<text x="1797.6" y="1385.9" font-size="29.5" textLength="97.2" lengthAdjust="spacingAndGlyphs" fill="#000">1170.8</text>
<text x="2105.4" y="1385.9" font-size="29.5" textLength="97.2" lengthAdjust="spacingAndGlyphs" fill="#000">1163.7</text>
<text x="269.36" y="1419.9" font-size="29.5" textLength="71.88" lengthAdjust="spacingAndGlyphs" fill="#000">-22.1</text>
<text x="576.96" y="1419.9" font-size="29.5" textLength="71.88" lengthAdjust="spacingAndGlyphs" fill="#000">-21.3</text>
<text x="886.16" y="1419.9" font-size="29.5" textLength="71.88" lengthAdjust="spacingAndGlyphs" fill="#000">-20.6</text>
<text x="1193.56" y="1419.9" font-size="29.5" textLength="71.88" lengthAdjust="spacingAndGlyphs" fill="#000">-19.8</text>
<text x="1501.86" y="1419.9" font-size="29.5" textLength="71.88" lengthAdjust="spacingAndGlyphs" fill="#000">-19.1</text>
<text x="1810.26" y="1419.9" font-size="29.5" textLength="71.88" lengthAdjust="spacingAndGlyphs" fill="#000">-18.3</text>
<text x="2118.06" y="1419.9" font-size="29.5" textLength="71.88" lengthAdjust="spacingAndGlyphs" fill="#000">-17.5</text>
<text x="269.36" y="1454" font-size="29.5" textLength="71.88" lengthAdjust="spacingAndGlyphs" fill="#000">-85.0</text>
<text x="576.96" y="1454" font-size="29.5" textLength="71.88" lengthAdjust="spacingAndGlyphs" fill="#000">-85.0</text>
<text x="886.16" y="1454" font-size="29.5" textLength="71.88" lengthAdjust="spacingAndGlyphs" fill="#000">-84.9</text>
<text x="1193.56" y="1454" font-size="29.5" textLength="71.88" lengthAdjust="spacingAndGlyphs" fill="#000">-84.8</text>
<text x="1501.86" y="1454" font-size="29.5" textLength="71.88" lengthAdjust="spacingAndGlyphs" fill="#000">-84.7</text>
<text x="1810.26" y="1454" font-size="29.5" textLength="71.88" lengthAdjust="spacingAndGlyphs" fill="#000">-84.7</text>
<text x="2118.06" y="1454" font-size="29.5" textLength="71.88" lengthAdjust="spacingAndGlyphs" fill="#000">-84.6</text>
<text x="269.36" y="1488" font-size="29.5" textLength="71.88" lengthAdjust="spacingAndGlyphs" fill="#000">-12.5</text>
<text x="576.96" y="1488" font-size="29.5" textLength="71.88" lengthAdjust="spacingAndGlyphs" fill="#000">-11.8</text>
<text x="886.16" y="1488" font-size="29.5" textLength="71.88" lengthAdjust="spacingAndGlyphs" fill="#000">-11.0</text>
<text x="1193.56" y="1488" font-size="29.5" textLength="71.88" lengthAdjust="spacingAndGlyphs" fill="#000">-10.2</text>
<text x="1510.7" y="1488" font-size="29.5" textLength="54.2" lengthAdjust="spacingAndGlyphs" fill="#000">-9.5</text>
<text x="1819.1" y="1488" font-size="29.5" textLength="54.2" lengthAdjust="spacingAndGlyphs" fill="#000">-8.7</text>
<text x="2126.9" y="1488" font-size="29.5" textLength="54.2" lengthAdjust="spacingAndGlyphs" fill="#000">-7.9</text>
<text x="274.37" y="1522" font-size="29.5" textLength="61.85" lengthAdjust="spacingAndGlyphs" fill="#000">15.0</text>
<text x="581.97" y="1522" font-size="29.5" textLength="61.85" lengthAdjust="spacingAndGlyphs" fill="#000">15.0</text>
<text x="891.17" y="1522" font-size="29.5" textLength="61.85" lengthAdjust="spacingAndGlyphs" fill="#000">15.0</text>
<text x="1198.57" y="1522" font-size="29.5" textLength="61.85" lengthAdjust="spacingAndGlyphs" fill="#000">15.0</text>
<text x="1506.87" y="1522" font-size="29.5" textLength="61.85" lengthAdjust="spacingAndGlyphs" fill="#000">15.0</text>
<text x="1815.27" y="1522" font-size="29.5" textLength="61.85" lengthAdjust="spacingAndGlyphs" fill="#000">15.1</text>
<text x="2123.07" y="1522" font-size="29.5" textLength="61.85" lengthAdjust="spacingAndGlyphs" fill="#000">15.1</text>
</g>
<g id="row-headers">
<text x="151" y="1354" font-size="29.5" textLength="37.3" lengthAdjust="spacingAndGlyphs" fill="#000">UT</text>
<text x="67.02" y="1388" font-size="29.5" textLength="121.28" lengthAdjust="spacingAndGlyphs" fill="#000">ALT (km)</text>
<text x="86.96" y="1422" font-size="29.5" textLength="69.6" lengthAdjust="spacingAndGlyphs" fill="#000">LAT (</text>
<text x="162.65" y="1413.8" font-size="18.05" textLength="7.22" lengthAdjust="spacingAndGlyphs" fill="#000" font-weight="bold">°</text>
<text x="177.46" y="1422" font-size="29.5" textLength="10.84" lengthAdjust="spacingAndGlyphs" fill="#000">)</text>
<text x="79.76" y="1455.9" font-size="29.5" textLength="76.8" lengthAdjust="spacingAndGlyphs" fill="#000">LON (</text>
<text x="162.65" y="1447.7" font-size="18.05" textLength="7.22" lengthAdjust="spacingAndGlyphs" fill="#000" font-weight="bold">°</text>
<text x="177.46" y="1455.9" font-size="29.5" textLength="10.84" lengthAdjust="spacingAndGlyphs" fill="#000">)</text>
<text x="62.99" y="1489.8" font-size="29.5" textLength="93.57" lengthAdjust="spacingAndGlyphs" fill="#000">MLAT (</text>
<text x="162.65" y="1481.6" font-size="18.05" textLength="7.22" lengthAdjust="spacingAndGlyphs" fill="#000" font-weight="bold">°</text>
<text x="177.46" y="1489.8" font-size="29.5" textLength="10.84" lengthAdjust="spacingAndGlyphs" fill="#000">)</text>
<text x="61.7" y="1523.6" font-size="29.5" textLength="126.6" lengthAdjust="spacingAndGlyphs" fill="#000">MLT (hrs)</text>
</g>
<g id="footer">
<text x="57.6" y="1575.5" font-size="29.5" textLength="1077.24" lengthAdjust="spacingAndGlyphs" fill="#000">Station: Cuzco, Lat -13.530, Lon -71.970, Elevation 3500 m, UTC Offset -5 hrs</text>
<text x="1788.01" y="1575" font-size="29.5" textLength="442.19" lengthAdjust="spacingAndGlyphs" fill="#000">Produced by CER_TEC version 2</text>
</g>
</g>
</svg>
</body>
</html>
